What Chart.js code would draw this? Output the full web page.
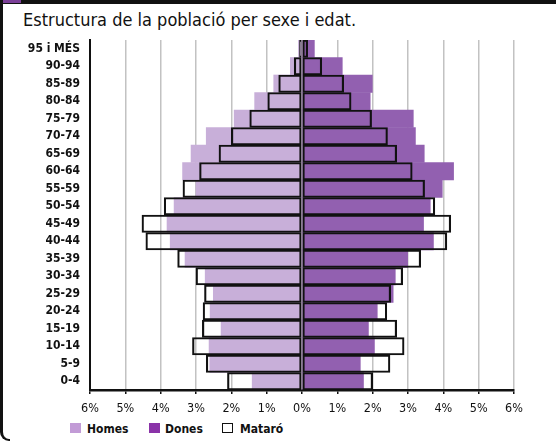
<!DOCTYPE html>
<html>
<head>
<meta charset="utf-8">
<script src="https://cdn.jsdelivr.net/npm/chart.js@4"></script>
<style>
  html, body { margin: 0; padding: 0; background: #fff; }
  body { width: 556px; height: 441px; position: relative; overflow: hidden;
         font-family: "Liberation Sans Narrow", "DejaVu Sans Condensed", sans-serif; }
  .top-band { position: absolute; left: 0; top: 0; width: 556px; height: 4px; background: #111; }
  .top-tint { position: absolute; left: 0; top: 0; width: 21px; height: 3px; background: #7b3f98; }
  .left-frame { position: absolute; left: 0; top: 0; width: 10px; height: 441px; box-sizing: border-box;
                border-left: 3px solid #111; border-bottom: 2px solid #111; border-bottom-left-radius: 9px; }
  .title { position: absolute; left: 23px; top: 9px; font-size: 18px; color: #111; white-space: nowrap; }
  #wrap { position: absolute; left: 0; top: 0; width: 534px; height: 420px; }
  .legend { position: absolute; top: 423px; left: 0; font-size: 12px; font-weight: bold; color: #111; }
  .legend span { position: absolute; white-space: nowrap; line-height: 12px; }
  .legend .box { width: 11px; height: 10px; top: 0; }
</style>
</head>
<body>
<div class="top-band"></div>
<div class="top-tint"></div>
<div class="left-frame"></div>
<div class="title">Estructura de la població per sexe i edat.</div>
<div id="wrap"><canvas id="pyramid" width="534" height="420"></canvas></div>
<div class="legend">
  <span class="box" style="left:70px;background:#c29bd6"></span>
  <span style="left:87px;top:0">Homes</span>
  <span class="box" style="left:149px;background:#8a33a8"></span>
  <span style="left:165px;top:0">Dones</span>
  <span class="box" style="left:222px;width:9px;height:8px;border:1.5px solid #111;background:#fff"></span>
  <span style="left:240px;top:0">Mataró</span>
</div>
<script>
'use strict';

// ─── Data (% of total population) ─────────────────────────────────────────────

const ageGroups = ['95 i MÉS', '90-94', '85-89', '80-84', '75-79', '70-74', '65-69', '60-64',
  '55-59', '50-54', '45-49', '40-44', '35-39', '30-34', '25-29', '20-24', '15-19', '10-14', '5-9', '0-4'];

const homes = [0.10, 0.33, 0.80, 1.34, 1.92, 2.71, 3.14, 3.38, 3.00, 3.62,
  3.82, 3.73, 3.31, 2.74, 2.51, 2.60, 2.29, 2.63, 2.61, 1.41];
const dones = [0.35, 1.14, 1.99, 1.93, 3.15, 3.21, 3.46, 4.29, 3.97, 3.63,
  3.44, 3.72, 2.99, 2.64, 2.58, 2.13, 1.88, 2.05, 1.65, 1.74];
const mataroHomes = [0.07, 0.22, 0.66, 0.97, 1.48, 2.00, 2.35, 2.90, 3.37, 3.90,
  4.53, 4.42, 3.52, 3.00, 2.76, 2.80, 2.82, 3.10, 2.71, 2.11];
const mataroDones = [0.16, 0.56, 1.18, 1.39, 1.97, 2.42, 2.68, 3.12, 3.47, 3.76,
  4.21, 4.10, 3.36, 2.85, 2.51, 2.40, 2.68, 2.89, 2.49, 2.00];

const xTicks = [-6, -5, -4, -3, -2, -1, 0, 1, 2, 3, 4, 5, 6];

// ─── Chart ────────────────────────────────────────────────────────────────────

const FONT = '"Liberation Sans Narrow", "DejaVu Sans Condensed", sans-serif';
const left = (arr) => arr.map(v => -v);

const fillBar = (label, data, color) => ({
  label, data, backgroundColor: color, borderWidth: 0, order: 2,
  barPercentage: 1, categoryPercentage: 1, grouped: false,
});
const outlineBar = (label, data) => ({
  label, data, backgroundColor: 'rgba(0,0,0,0)', borderColor: '#111', borderWidth: 1.5,
  borderSkipped: false, order: 1, barPercentage: 1, categoryPercentage: 1, grouped: false,
});

new Chart(document.getElementById('pyramid'), {
  type: 'bar',
  data: {
    labels: ageGroups,
    datasets: [
      fillBar('Homes', left(homes), '#c8afd9'),
      fillBar('Dones', dones, '#9260b0'),
      outlineBar('Mataró homes', left(mataroHomes)),
      outlineBar('Mataró dones', mataroDones),
    ],
  },
  options: {
    indexAxis: 'y',
    responsive: false,
    animation: false,
    devicePixelRatio: 1,
    layout: { padding: { top: 40, right: 20, left: 0, bottom: 0 } },
    plugins: { legend: { display: false }, tooltip: { enabled: false } },
    scales: {
      x: {
        min: -6, max: 6,
        afterBuildTicks: (s) => { s.ticks = xTicks.map(v => ({ value: v })); },
        afterFit: (s) => { s.height = 30; },
        grid: {
          color: (ctx) => (ctx.tick && ctx.tick.value === -6 ? 'rgba(0,0,0,0)' : '#c2c2c2'),
          lineWidth: 1.5, tickColor: '#111', tickLength: 4, drawTicks: true,
        },
        border: { display: true, color: '#111', width: 2.5 },
        ticks: {
          color: '#111', padding: 7, maxRotation: 0,
          font: { family: FONT, size: 12.5 },
          callback: (v) => Math.abs(v) + '%',
        },
      },
      y: {
        afterFit: (s) => { s.width = 90; },
        grid: { display: false },
        border: { display: true, color: '#111', width: 2 },
        ticks: { color: '#111', padding: 2, font: { family: FONT, size: 12, weight: 'bold' } },
      },
    },
  },
});
</script>
</body>
</html>
